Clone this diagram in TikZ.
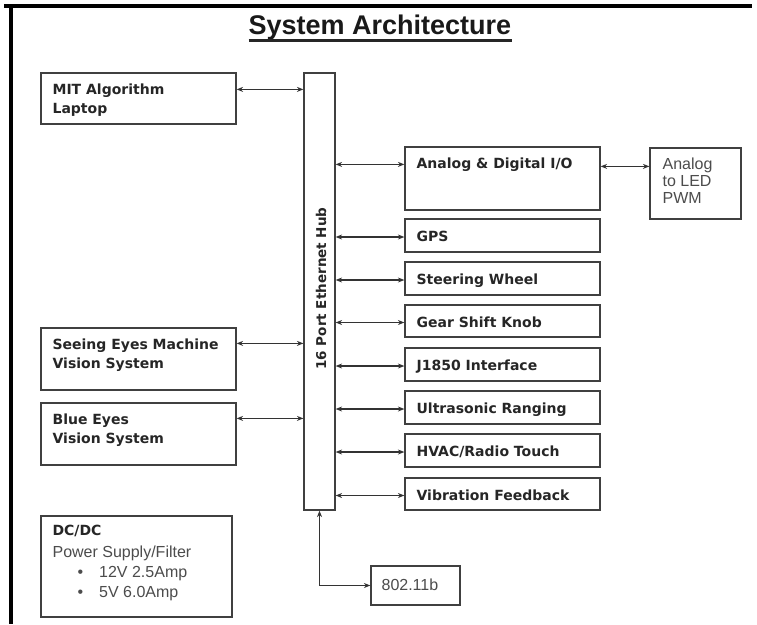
\documentclass[tikz,border=0pt]{standalone}
\usepackage{fontspec}
\setmainfont{Liberation Sans}
\newfontfamily\lblfont{DejaVu Sans}
\usetikzlibrary{arrows.meta}

\tikzset{
  box/.style={draw=black!75, line width=1.2pt, fill=white, inner sep=0pt},
  lbl/.style={font=\lblfont\bfseries\fontsize{14}{19}\selectfont, align=left, inner sep=0pt, text=black!85},
  reg/.style={font=\fontsize{16}{17}\selectfont, align=left, inner sep=0pt, text=black!70},
  link/.style={<->, draw=black!80, line width=1.1pt, >={Stealth[length=6.5pt,width=5pt]}}
}

\begin{document}
\begin{tikzpicture}[x=1pt,y=-1pt]
\useasboundingbox (0,0) rectangle (757,624);

% page frame
\draw[line width=4pt] (4,6) -- (752,6);
\draw[line width=4.5pt] (11,4) -- (11,624);

% title
\node[font=\bfseries\fontsize{27}{30}\selectfont, inner sep=0pt, anchor=base, text=black!90] (title) at (380,34) {System Architecture};
\draw[line width=3pt, black!85] ([yshift=-6]title.base west) -- ([yshift=-6]title.base east);

% hub
\node[box, minimum width=31, minimum height=437] (hub) at (319.5,291.5) {};
\node[lbl, rotate=90, font=\lblfont\bfseries\fontsize{13.5}{16}\selectfont] (hubT) at ([xshift=1.5,yshift=3]hub.center) {16 Port Ethernet Hub};

% left side blocks
\node[box, minimum width=195, minimum height=51] (mit) at (138.5,98.5) {};
\node[lbl, anchor=north west] (mitT) at ([xshift=12,yshift=-11]mit.north west) {MIT Algorithm\\Laptop};

\node[box, minimum width=195, minimum height=62] (seeing) at (138.5,359) {};
\node[lbl, anchor=north west] (seeingT) at ([xshift=12,yshift=-11]seeing.north west) {Seeing Eyes Machine\\Vision System};

\node[box, minimum width=195, minimum height=62] (blue) at (138.5,434) {};
\node[lbl, anchor=north west] (blueT) at ([xshift=12,yshift=-11]blue.north west) {Blue Eyes\\Vision System};

\node[box, minimum width=191, minimum height=101] (dc) at (136.5,566.5) {};
\node[lbl, anchor=base west] (dcA) at ([xshift=12,yshift=-20]dc.north west) {DC/DC};
\node[reg, anchor=base west] (dcB) at ([xshift=12,yshift=-42]dc.north west) {Power Supply/Filter};
\node[reg, anchor=base west] (dcC) at ([xshift=37,yshift=-62]dc.north west) {\textbullet\hspace{16pt}12V 2.5Amp};
\node[reg, anchor=base west] (dcD) at ([xshift=37,yshift=-82]dc.north west) {\textbullet\hspace{16pt}5V 6.0Amp};

% right side blocks
\node[box, minimum width=195, minimum height=63] (adio) at (502.5,178.5) {};
\node[lbl, anchor=north west] (adioT) at ([xshift=12,yshift=-11]adio.north west) {Analog \& Digital I/O};

\node[box, minimum width=91, minimum height=71] (pwm) at (695.5,183.5) {};
\node[reg, anchor=north west] (pwmT) at ([xshift=13,yshift=-10]pwm.north west) {Analog\\to LED\\PWM};

\node[box, minimum width=195, minimum height=33] (gps) at (502.5,235.5) {};
\node[lbl, anchor=base west] (gpsT) at ([xshift=12,yshift=-6]gps.west) {GPS};

\node[box, minimum width=195, minimum height=33] (steer) at (502.5,278.5) {};
\node[lbl, anchor=base west] (steerT) at ([xshift=12,yshift=-6]steer.west) {Steering Wheel};

\node[box, minimum width=195, minimum height=32] (gear) at (502.5,321) {};
\node[lbl, anchor=base west] (gearT) at ([xshift=12,yshift=-6]gear.west) {Gear Shift Knob};

\node[box, minimum width=195, minimum height=33] (j1850) at (502.5,364.5) {};
\node[lbl, anchor=base west] (j1850T) at ([xshift=12,yshift=-6]j1850.west) {J1850 Interface};

\node[box, minimum width=195, minimum height=33] (ultra) at (502.5,407.5) {};
\node[lbl, anchor=base west] (ultraT) at ([xshift=12,yshift=-6]ultra.west) {Ultrasonic Ranging};

\node[box, minimum width=195, minimum height=33] (hvac) at (502.5,450.5) {};
\node[lbl, anchor=base west] (hvacT) at ([xshift=12,yshift=-6]hvac.west) {HVAC/Radio Touch};

\node[box, minimum width=195, minimum height=32] (vib) at (502.5,494) {};
\node[lbl, anchor=base west] (vibT) at ([xshift=12,yshift=-6]vib.west) {Vibration Feedback};

\node[box, minimum width=89, minimum height=39] (wifi) at (415.5,585.5) {};
\node[reg, anchor=base west] (wifiT) at ([xshift=11,yshift=-5]wifi.west) {802.11b};

% connectors
\path ([yshift=-17]mit.north east) coordinate (pm);
\draw[link] (pm) -- (hub.west |- pm);
\path ([yshift=-16]seeing.north east) coordinate (ps);
\draw[link] (ps) -- (hub.west |- ps);
\path ([yshift=-16]blue.north east) coordinate (pbl);
\draw[link] (pbl) -- (hub.west |- pbl);

\path ([yshift=-18]adio.north west) coordinate (pa);
\draw[link] (hub.east |- pa) -- (pa);
\path ([yshift=-20]adio.north east) coordinate (pp);
\draw[link] (pp) -- (pwm.west |- pp);

\foreach \n in {gps,steer,gear,j1850,ultra,hvac,vib}
  \draw[link] ([yshift=-1.5]hub.east |- \n.west) -- ([yshift=-1.5]\n.west);

\draw[link] (hub.south) |- (wifi.west);
\end{tikzpicture}
\end{document}
